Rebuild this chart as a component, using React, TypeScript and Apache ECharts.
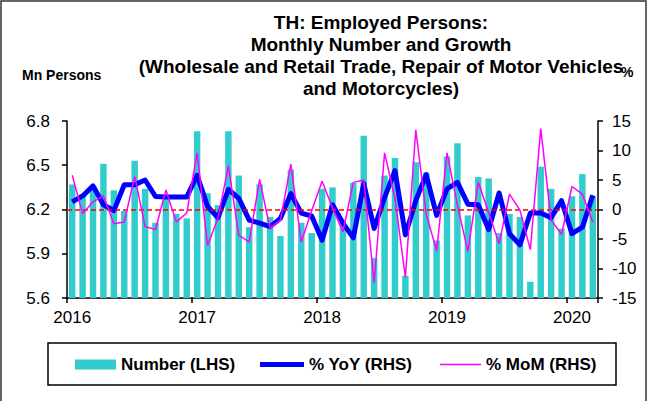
import React, { useEffect, useRef } from 'react';
import * as echarts from 'echarts';

const months: string[] = [
  'Jan-16', 'Feb-16', 'Mar-16', 'Apr-16', 'May-16', 'Jun-16', 'Jul-16', 'Aug-16', 'Sep-16', 'Oct-16', 'Nov-16', 'Dec-16',
  'Jan-17', 'Feb-17', 'Mar-17', 'Apr-17', 'May-17', 'Jun-17', 'Jul-17', 'Aug-17', 'Sep-17', 'Oct-17', 'Nov-17', 'Dec-17',
  'Jan-18', 'Feb-18', 'Mar-18', 'Apr-18', 'May-18', 'Jun-18', 'Jul-18', 'Aug-18', 'Sep-18', 'Oct-18', 'Nov-18', 'Dec-18',
  'Jan-19', 'Feb-19', 'Mar-19', 'Apr-19', 'May-19', 'Jun-19', 'Jul-19', 'Aug-19', 'Sep-19', 'Oct-19', 'Nov-19', 'Dec-19',
  'Jan-20', 'Feb-20', 'Mar-20',
];

const yearLabels: string[] = ['2016', '2017', '2018', '2019', '2020'];

const numberLHS: number[] = [
  6.37, 6.30, 6.36, 6.51, 6.33, 6.19, 6.53, 6.34, 6.11, 6.30, 6.17, 6.14,
  6.73, 6.31, 6.23, 6.73, 6.43, 6.08, 6.37, 6.15, 6.02, 6.47, 6.11, 6.04,
  6.34, 6.35, 6.11, 6.38, 6.70, 5.87, 6.43, 6.55, 5.75, 6.52, 6.45, 5.99,
  6.56, 6.65, 6.16, 6.42, 6.41, 6.04, 6.17, 6.15, 5.71, 6.49, 6.34, 6.07,
  6.29, 6.44, 6.29,
];

const yoyRHS: number[] = [
  1.3, 2.3, 4.0, 0.8, -0.2, 4.2, 4.2, 5.0, 2.2, 2.1, 2.1, 2.1,
  5.8, 0.5, -1.4, 3.4, 1.9, -1.8, -2.3, -2.9, -1.5, 2.7, -0.6, -1.1,
  -5.2, 0.8, -2.3, -4.8, 4.4, -3.2, 2.0, 6.6, -4.3, 1.5, 5.9, -1.0,
  3.5, 4.6, 0.9, 0.8, -3.4, 2.8, -4.1, -6.0, -0.6, -0.6, -1.4, 1.5,
  -4.1, -3.0, 2.4,
];

const momRHS: number[] = [
  5.8, -0.7, 1.3, 2.3, -2.4, -2.1, 5.6, -2.9, -3.4, 3.3, -2.1, -0.6,
  9.6, -6.1, -1.5, 7.4, -4.4, -5.5, 5.1, -3.2, -1.8, 7.7, -5.5, -0.2,
  4.8, 0.3, -3.8, 4.6, 5.0, -12.4, 9.6, 1.9, -11.5, 13.5, -0.8, -7.0,
  9.6, 0.7, -7.1, 4.6, -0.5, -5.8, 2.6, -0.1, -6.8, 13.7, -1.8, -4.2,
  3.9, 2.6, -2.1,
];

const leftTicks: number[] = [5.6, 5.9, 6.2, 6.5, 6.8];
const zeroLineLHS = 6.2;

const titleLines: string[] = [
  'TH: Employed Persons:',
  'Monthly Number and Growth',
  '(Wholesale and Retail Trade, Repair of Motor Vehicles',
  'and Motorcycles)',
];

const FONT = "'Liberation Sans', Arial, Helvetica, sans-serif";

export default function App() {
  const ref = useRef<HTMLDivElement>(null);

  useEffect(() => {
    if (!ref.current) return;
    const chart = echarts.init(ref.current, undefined, { renderer: 'svg' });
    const legendText = { fontFamily: FONT, fontSize: 17, fontWeight: 'bold' as const, color: '#000' };
    const option: any = {
      animation: false,
      backgroundColor: '#fff',
      textStyle: { fontFamily: FONT },
      grid: { left: 67, right: 51, top: 121, bottom: 103, containLabel: false },
      graphic: [
        {
          type: 'rect',
          shape: { x: 1, y: 1, width: 645, height: 420 },
          style: { fill: 'none', stroke: '#333', lineWidth: 1.5 },
          silent: true,
          z: -1,
        },
        {
          type: 'rect',
          shape: { x: 48, y: 343, width: 568, height: 42 },
          style: { fill: 'none', stroke: '#000', lineWidth: 1.5 },
          silent: true,
        },
        {
          type: 'text',
          x: 381,
          y: 11,
          style: {
            text: titleLines.join('\n'),
            font: `bold 19px ${FONT}`,
            lineHeight: 22,
            textAlign: 'center',
            textVerticalAlign: 'top',
            fill: '#000',
          },
        },
        {
          type: 'text',
          x: 22,
          y: 75,
          style: {
            text: 'Mn Persons',
            font: `bold 14px ${FONT}`,
            textVerticalAlign: 'middle',
            fill: '#000',
          },
        },
        {
          type: 'text',
          x: 621,
          y: 72,
          style: {
            text: '%',
            font: `bold 14px ${FONT}`,
            textVerticalAlign: 'middle',
            fill: '#000',
          },
        },
      ],
      legend: [
        {
          data: [{ name: 'Number (LHS)', icon: 'rect' }],
          left: 75,
          top: 356,
          padding: 0,
          itemWidth: 41,
          itemHeight: 10,
          selectedMode: false,
          textStyle: legendText,
        },
        {
          data: [{ name: '% YoY (RHS)', icon: 'rect' }],
          left: 260,
          top: 356,
          padding: 0,
          itemWidth: 44,
          itemHeight: 5,
          selectedMode: false,
          textStyle: legendText,
        },
        {
          data: [{ name: '% MoM (RHS)', icon: 'rect' }],
          left: 440,
          top: 356,
          padding: 0,
          itemWidth: 41,
          itemHeight: 1.5,
          selectedMode: false,
          textStyle: legendText,
        },
      ],
      xAxis: {
        type: 'category',
        data: months,
        boundaryGap: true,
        axisLine: { onZero: false, lineStyle: { color: '#000', width: 1.5 } },
        axisTick: {
          show: true,
          length: 5,
          interval: (i: number) => i % 12 === 0,
          lineStyle: { color: '#000', width: 1.5 },
        },
        axisLabel: {
          interval: (i: number) => i % 12 === 0,
          formatter: (_v: string, i: number) => yearLabels[Math.floor(i / 12)] ?? '',
          color: '#000',
          fontSize: 17,
          fontFamily: FONT,
          margin: 11,
        },
        splitLine: { show: false },
      },
      yAxis: [
        {
          type: 'value',
          min: 5.6,
          max: 6.8,
          position: 'left',
          axisLine: { show: true, lineStyle: { color: '#000', width: 1.5 } },
          axisTick: { show: true, length: 5, customValues: leftTicks, lineStyle: { color: '#000', width: 1.5 } },
          axisLabel: {
            customValues: leftTicks,
            formatter: (v: number) => v.toFixed(1),
            color: '#000',
            fontSize: 17,
            fontFamily: FONT,
            margin: 17,
          },
          splitLine: { show: false },
        },
        {
          type: 'value',
          min: -15,
          max: 15,
          interval: 5,
          position: 'right',
          axisLine: { show: true, lineStyle: { color: '#000', width: 1.5 } },
          axisTick: { show: true, length: 5, lineStyle: { color: '#000', width: 1.5 } },
          axisLabel: { color: '#000', fontSize: 17, fontFamily: FONT, margin: 14 },
          splitLine: { show: false },
        },
      ],
      series: [
        {
          name: 'Number (LHS)',
          type: 'bar',
          yAxisIndex: 0,
          data: numberLHS,
          barWidth: '62%',
          itemStyle: { color: '#33CCCC' },
          z: 2,
          markLine: {
            silent: true,
            symbol: ['none', 'none'],
            label: { show: false },
            lineStyle: { color: '#FF0000', type: [5, 3], width: 1.6, opacity: 1 },
            emphasis: { disabled: true },
            data: [{ yAxis: zeroLineLHS, lineStyle: { color: '#FF0000', type: [5, 3], width: 1.6 } }],
          },
        },
        {
          name: '% YoY (RHS)',
          type: 'line',
          yAxisIndex: 1,
          data: yoyRHS,
          symbol: 'none',
          showSymbol: false,
          lineStyle: { color: '#0000FF', width: 5, join: 'round' },
          itemStyle: { color: '#0000FF' },
          z: 4,
        },
        {
          name: '% MoM (RHS)',
          type: 'line',
          yAxisIndex: 1,
          data: momRHS,
          symbol: 'none',
          showSymbol: false,
          lineStyle: { color: '#FF00FF', width: 1.5 },
          itemStyle: { color: '#FF00FF' },
          z: 5,
        },
      ],
    };
    chart.setOption(option);
    return () => chart.dispose();
  }, []);

  return (
    <div
      ref={ref}
      style={{ position: 'fixed', left: 0, top: 0, width: 649, height: 401, background: '#fff' }}
    />
  );
}
